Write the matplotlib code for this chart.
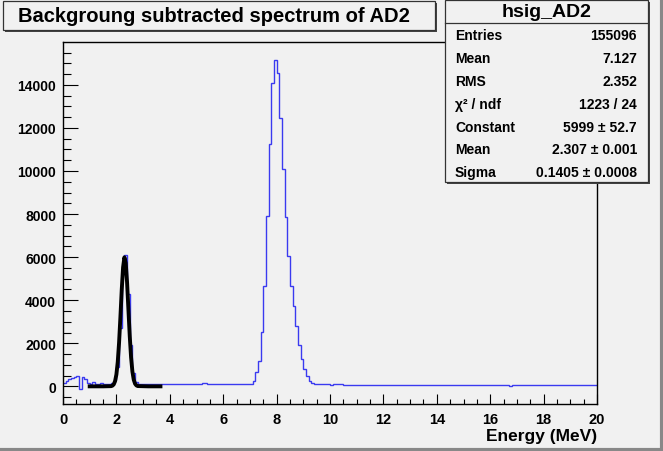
import numpy as np
import matplotlib
matplotlib.use("Agg")
import matplotlib.pyplot as plt
from matplotlib.patches import Rectangle
from matplotlib.ticker import MultipleLocator

plt.rcParams['font.family'] = ['Liberation Sans', 'DejaVu Sans']
plt.rcParams['font.weight'] = 'bold'

# histogram hsig_AD2 : 200 bins from 0 to 20 MeV
nbins, xlo, xhi = 200, 0.0, 20.0
counts = [
    150, 260, 320, 380, 420, 465, -130, 430, 330, 150,        # 0 - 1
    110, 180, 110, 100, 150, 100, 110, 120, 150, 300,         # 1 - 2
    900, 2700, 5200, 6100, 4300, 1900, 600, 200, 120, 100,    # 2 - 3
    100, 110, 100, 100, 110, 100, 100, 100, 110, 100,         # 3 - 4
    100, 100, 110, 100, 100, 100, 100, 110, 100, 100,         # 4 - 5
    100, 110, 140, 140, 130, 110, 110, 110, 100, 100,         # 5 - 6
    100, 100, 110, 110, 110, 120, 110, 110, 120, 110,         # 6 - 7
    110, 250, 650, 1190, 2510, 4680, 7930, 11270, 14090, 15140,   # 7 - 8
    14550, 12480, 10070, 7860, 6040, 4680, 3750, 2820, 1920, 1270,  # 8 - 9
    805, 465, 260, 150, 120, 110, 110, 110, 110, 110,         # 9 - 10
    80, 120, 120, 120, 120, 50, 40, 40, 40, 40,               # 10 - 11
    40, 40, 40, 40, 40, 40, 40, 40, 40, 40,                   # 11 - 12
    40, 40, 40, 40, 40, 40, 40, 40, 40, 40,                   # 12 - 13
    40, 40, 40, 40, 40, 40, 40, 40, 40, 40,                   # 13 - 14
    40, 40, 40, 40, 40, 40, 40, 40, 40, 40,                   # 14 - 15
    40, 40, 40, 40, 40, 40, 40, 40, 40, 40,                   # 15 - 16
    40, 40, 40, 40, 40, 40, 40, 0, 60, 40,                    # 16 - 17
    40, 40, 40, 40, 40, 40, 40, 40, 40, 40,                   # 17 - 18
    40, 40, 40, 40, 40, 40, 40, 40, 40, 40,                   # 18 - 19
    40, 40, 40, 40, 40, 40, 40, 40, 40, 40,                   # 19 - 20
]

fit_x = [1.00, 1.50, 1.80, 1.85, 1.90, 1.95, 2.00, 2.05, 2.10, 2.15, 2.20, 2.25,
         2.30, 2.35, 2.40, 2.45, 2.50, 2.55, 2.60, 2.65, 2.70, 2.75, 2.80, 3.20, 3.65]
fit_y = [0, 0, 9, 30, 90, 238, 551, 1126, 2027, 3214, 4487, 5525,
         5992, 5725, 4818, 3573, 2334, 1343, 682, 305, 120, 42, 13, 0, 0]

stat_names = ['Entries', 'Mean', 'RMS', 'χ² / ndf', 'Constant', 'Mean', 'Sigma']
stat_values = ['155096', '7.127', '2.352', '1223 / 24', '5999 ± 52.7',
               '2.307 ± 0.001', '0.1405 ± 0.0008']

W, H = 663, 452
bg = '#f1f1f1'
fig = plt.figure(figsize=(W / 100, H / 100), dpi=100, facecolor=bg)
ax = fig.add_axes([63 / W, 1 - 405 / H, (597 - 63) / W, (405 - 43) / H])
ax.set_facecolor(bg)

edges = np.linspace(xlo, xhi, nbins + 1)
ax.stairs(counts, edges, baseline=None, color='#3a3af0', lw=1.0)
ax.plot(fit_x, fit_y, color='black', lw=2.8)

ax.set_xlim(0, 20)
ax.set_ylim(-820, 15990)
ax.xaxis.set_major_locator(MultipleLocator(2))
ax.xaxis.set_minor_locator(MultipleLocator(0.5))
ax.yaxis.set_major_locator(MultipleLocator(2000))
ax.yaxis.set_minor_locator(MultipleLocator(500))
ax.tick_params(axis='x', which='major', direction='in', length=7, width=0.8, pad=6, labelsize=10.5)
ax.tick_params(axis='x', which='minor', direction='in', length=3.5, width=0.8)
ax.tick_params(axis='y', which='major', direction='in', length=11, width=0.8, pad=5, labelsize=10)
ax.tick_params(axis='y', which='minor', direction='in', length=5.5, width=0.8)
for lab in ax.get_xticklabels() + ax.get_yticklabels():
    lab.set_fontweight('bold')
for s in ax.spines.values():
    s.set_linewidth(1.0)
ax.set_xlabel('Energy (MeV)', fontsize=12.5, fontweight='bold', loc='right', labelpad=1)


def px_box(x0, y0, x1, y1):
    # box with a ROOT-like shadow, given in pixel coords from top-left
    sh = Rectangle((x0 / W + 2 / W, 1 - (y1 + 2) / H), (x1 - x0) / W, (y1 - y0) / H,
                   transform=fig.transFigure, facecolor='#444444', edgecolor='none', zorder=5)
    bx = Rectangle((x0 / W, 1 - y1 / H), (x1 - x0) / W, (y1 - y0) / H,
                   transform=fig.transFigure, facecolor=bg, edgecolor='#333333', lw=0.9, zorder=6)
    fig.patches.extend([sh, bx])


# title box
px_box(3, 2, 435, 31)
fig.text(214 / W, 1 - 17 / H, 'Backgroung subtracted spectrum of AD2', ha='center', va='center',
         fontsize=14.5, fontweight='bold', zorder=7)

# stats box
px_box(445, 1, 648, 183)
fig.add_artist(plt.Line2D([445 / W, 648 / W], [1 - 24 / H, 1 - 24 / H], transform=fig.transFigure,
                          color='#333333', lw=0.9, zorder=7))
fig.text(547 / W, 1 - 12.5 / H, 'hsig_AD2', ha='center', va='center', fontsize=14,
         fontweight='bold', zorder=7)
for i, (n, v) in enumerate(zip(stat_names, stat_values)):
    yy = 1 - (36.5 + i * 22.8) / H
    fig.text(455 / W, yy, n, ha='left', va='center', fontsize=10, fontweight='bold', zorder=7)
    fig.text(637 / W, yy, v, ha='right', va='center', fontsize=10, fontweight='bold', zorder=7)

# canvas bevel
fig.add_artist(plt.Line2D([0, 1], [1.5 / H, 1.5 / H], transform=fig.transFigure, color='#888888', lw=3))
fig.add_artist(plt.Line2D([1 - 1.5 / W, 1 - 1.5 / W], [0, 1], transform=fig.transFigure, color='#888888', lw=3))

fig.savefig('out.png', dpi=100, facecolor=bg)
